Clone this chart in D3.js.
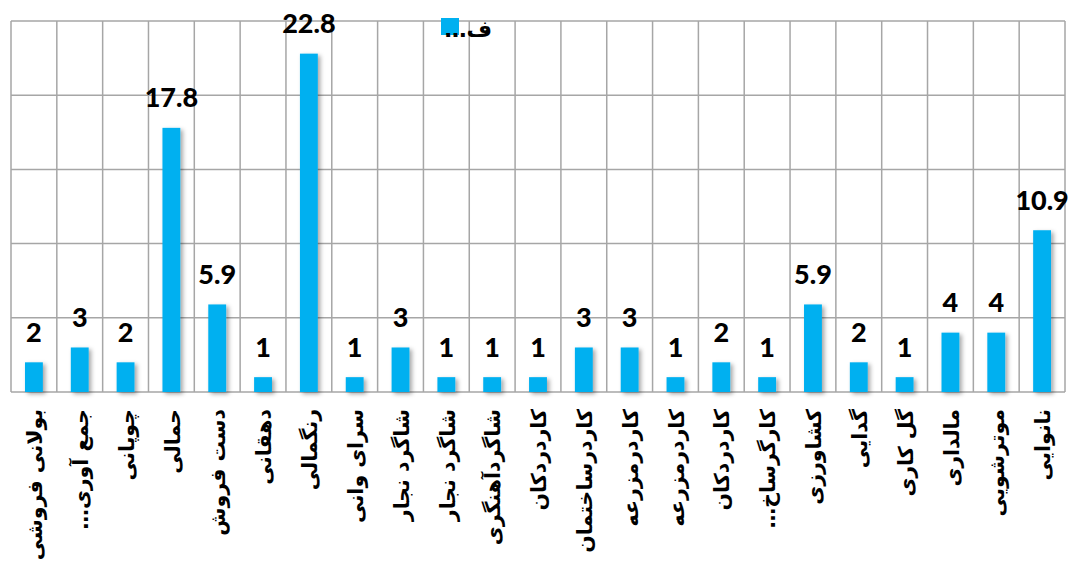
<!DOCTYPE html>
<html>
<head>
<meta charset="utf-8">
<script src="https://cdn.jsdelivr.net/npm/d3@7"></script>
<style>
  html, body { margin: 0; padding: 0; background: #fff; }
  svg { display: block; }
</style>
</head>
<body>
<svg id="chart" width="1076" height="567"></svg>
<script>
// Occupations and their shares (percent)
const categories = [
  "بولانی فروشی", "جمع آوری…", "چوپانی", "حمالی", "دست فروش", "دهقانی",
  "رنگمالی", "سرای وانی", "شاگرد نجار", "شاگرد نجار", "شاگردآهنگری",
  "کاردردکان", "کاردرساختمان", "کاردرمزرعه", "کاردرمزرعه", "کاردردکان",
  "کارگرساخ…", "کشاورزی", "گدایی", "گل کاری", "مالداری", "موترشویی", "نانوایی"
];
const values = [2, 3, 2, 17.8, 5.9, 1, 22.8, 1, 3, 1, 1, 1, 3, 3, 1, 2, 1, 5.9, 2, 1, 4, 4, 10.9];
const valueLabels = ["2", "3", "2", "17.8", "5.9", "1", "22.8", "1", "3", "1", "1", "1", "3", "3", "1", "2", "1", "5.9", "2", "1", "4", "4", "10.9"];
const yTicks = [0, 5, 10, 15, 20, 25];
const seriesName = "ف…";

const svg = d3.select("#chart");
const plot = { left: 11, right: 1065, top: 21, bottom: 392 };
const barColor = "#00B0F0";
const gridColor = "#A6A6A6";

const x = d3.scaleBand()
  .domain(d3.range(categories.length))
  .range([plot.left, plot.right])
  .padding(0);
const y = d3.scaleLinear().domain([0, 25]).range([plot.bottom, plot.top]);
const barW = x.bandwidth() * 0.39;

// soft drop shadow under the bars
const defs = svg.append("defs");
const f = defs.append("filter").attr("id", "shadow")
  .attr("x", "-50%").attr("y", "-10%").attr("width", "200%").attr("height", "130%");
f.append("feDropShadow").attr("dx", 2.5).attr("dy", 2).attr("stdDeviation", 2)
  .attr("flood-color", "#000").attr("flood-opacity", 0.35);

// horizontal gridlines
svg.append("g").selectAll("line").data(yTicks).join("line")
  .attr("x1", plot.left).attr("x2", plot.right)
  .attr("y1", d => y(d)).attr("y2", d => y(d))
  .attr("stroke", gridColor).attr("stroke-width", 1.5);

// vertical gridlines at category boundaries
const bounds = d3.range(categories.length + 1).map(i =>
  i < categories.length ? x(i) : x(categories.length - 1) + x.bandwidth());
svg.append("g").selectAll("line").data(bounds).join("line")
  .attr("x1", d => d).attr("x2", d => d)
  .attr("y1", plot.top).attr("y2", plot.bottom)
  .attr("stroke", gridColor).attr("stroke-width", 1.5);

// bars
svg.append("g").attr("filter", "url(#shadow)")
  .selectAll("rect").data(values).join("rect")
  .attr("x", (d, i) => x(i) + (x.bandwidth() - barW) / 2)
  .attr("y", d => y(d))
  .attr("width", barW)
  .attr("height", d => y(0) - y(d))
  .attr("fill", barColor);

// value labels
svg.append("g").selectAll("text").data(values).join("text")
  .attr("x", (d, i) => x(i) + x.bandwidth() / 2)
  .attr("y", d => y(d) - 20.5)
  .attr("text-anchor", "middle")
  .attr("font-family", "Lato, 'Open Sans', sans-serif")
  .attr("font-weight", 900)
  .attr("font-size", 27)
  .attr("fill", "#000")
  .text((d, i) => valueLabels[i]);

// category labels, rotated
svg.append("g").selectAll("text").data(categories).join("text")
  .attr("transform", (d, i) => `translate(${x(i) + x.bandwidth() / 2 + 1},409) rotate(-90)`)
  .attr("direction", "rtl")
  .attr("text-anchor", "start")
  .attr("dy", "0.35em")
  .attr("font-family", "'DejaVu Sans', sans-serif")
  .attr("font-weight", "bold")
  .attr("font-size", 20.5)
  .attr("fill", "#000")
  .text(d => d);

// legend
const legend = svg.append("g");
legend.append("rect")
  .attr("x", 441).attr("y", 18).attr("width", 18).attr("height", 17)
  .attr("fill", barColor);
legend.append("text")
  .attr("x", 492).attr("y", 37)
  .attr("direction", "rtl")
  .attr("text-anchor", "start")
  .attr("font-family", "'DejaVu Sans', sans-serif")
  .attr("font-weight", "bold")
  .attr("font-size", 22)
  .attr("fill", "#000")
  .text(seriesName);
</script>
</body>
</html>
